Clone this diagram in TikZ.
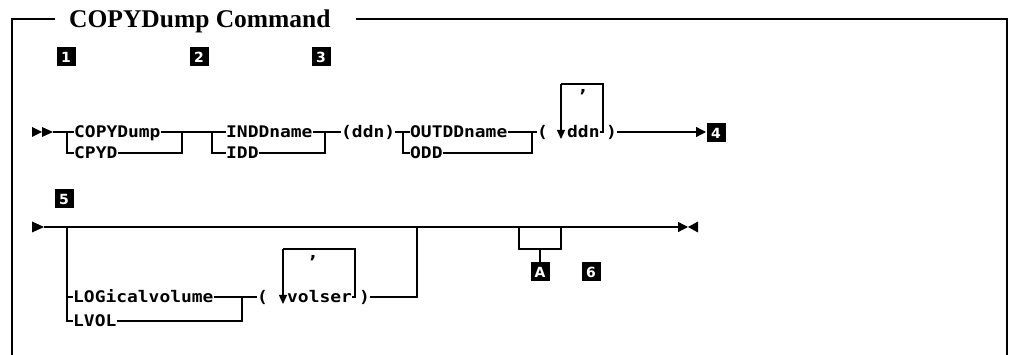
\documentclass[tikz,border=0pt]{standalone}
\usepackage{fontspec}
\setmainfont{Liberation Serif}
\newfontfamily\synfont[FakeStretch=1.12]{DejaVu Sans Mono}
\newfontfamily\badgefont{DejaVu Sans}
\usetikzlibrary{arrows.meta}
\tikzset{
  kw/.style={font=\synfont\bfseries\fontsize{16}{16}\selectfont, inner sep=0pt, anchor=west, text height=12pt, text depth=0pt},
  commanode/.style={font=\synfont\bfseries\fontsize{17}{17}\selectfont, inner sep=0pt, anchor=base},
  rr/.style={line width=1.3pt},
  frameline/.style={line width=1.7pt},
  badge/.style={fill=black, text=white, font=\badgefont\bfseries\fontsize{14}{14}\selectfont, minimum width=19pt, minimum height=19pt, inner sep=0pt},
  arr/.style={rr, -{Triangle[length=10pt,width=10pt]}},
  downarr/.style={rr, -{Triangle[length=9pt,width=8pt]}},
}
\begin{document}
\begin{tikzpicture}[x=1pt,y=-1pt]
\useasboundingbox (0,0) rectangle (1013,355);
% frame and title
\node[font=\bfseries\fontsize{25.5}{25.5}\selectfont, anchor=base west, inner sep=0pt] (title) at (69,28) {COPYDump Command};
\coordinate (fa) at (55,19);
\coordinate (fb) at (12,19);
\coordinate (fc) at (12,355);
\coordinate (fd) at (356,19);
\coordinate (fe) at (1007,19);
\coordinate (ff) at (1007,355);
\draw[frameline] (fa) -- (fb) -- (fc);
\draw[frameline] (fd) -- (fe) -- (ff);
% badges
\node[badge] (b1) at (66,57) {1};
\node[badge] (b2) at (199,57) {2};
\node[badge] (b3) at (321,57) {3};
\node[badge] (b4) at (716,133) {4};
\node[badge] (b5) at (64,199) {5};
\node[badge] (bA) at (540,272) {A};
\node[badge] (b6) at (591,272) {6};

% ---------------- row 1 ----------------
\fill (32,127) -- (42,132) -- (32,137) -- cycle;
\fill (42,127) -- (53,132) -- (42,137) -- cycle;
\coordinate (s1) at (53,132);
\coordinate (j1) at (67,132);
\coordinate (m1) at (182,132);
\coordinate (j2) at (212,132);
\coordinate (m2) at (325,132);
\coordinate (j3) at (403,132);
\coordinate (m3) at (532,132);
\node[kw] (copydump) at (74,132) {COPYDump};
\node[kw] (cpyd) at (74,153) {CPYD};
\node[kw] (inddname) at (226,132) {INDDname};
\node[kw] (idd) at (226,153) {IDD};
\node[kw] (ddn1) at (341,132) {(ddn)};
\node[kw] (outdd) at (410,132) {OUTDDname};
\node[kw] (odd) at (410,153) {ODD};
\node[kw] (lp1) at (537,132) {(};
\node[kw] (ddn2) at (567,132) {ddn};
\node[kw] (rp1) at (606,132) {)};
\node[commanode] (c1) at (583,93) {,};
\coordinate (l1a) at (603,132);
\coordinate (l1b) at (561,84);
\coordinate (l1c) at (561,139);
\coordinate (e1) at (706,132);

\draw[rr] (s1) -- (j1) -- (copydump.west);
\draw[rr] (j1) |- (cpyd.west);
\draw[rr] (copydump.east) -- (m1);
\draw[rr] (cpyd.east) -| (m1);
\draw[rr] (m1) -- (j2) -- (inddname.west);
\draw[rr] (j2) |- (idd.west);
\draw[rr] (inddname.east) -- (m2);
\draw[rr] (idd.east) -| (m2);
\draw[rr] (m2) -- (ddn1.west);
\draw[rr] (ddn1.east) -- (j3) -- (outdd.west);
\draw[rr] (j3) |- (odd.west);
\draw[rr] (outdd.east) -- (m3);
\draw[rr] (odd.east) -| (m3);
\draw[rr] (m3) -- (lp1.west);
\draw[rr] (ddn2.east) -- (l1a) |- (l1b);
\draw[downarr] (l1b) -- (l1c);
\draw[arr] (rp1.east) -- (e1);

% ---------------- row 2 ----------------
\fill (32,221.5) -- (44,227) -- (32,232.5) -- cycle;
\coordinate (s2) at (44,227);
\coordinate (j4) at (67,227);
\coordinate (m4) at (242,297);
\coordinate (u4) at (417,297);
\coordinate (k4) at (417,227);
\coordinate (fa1) at (519,227);
\coordinate (fa2) at (519,249);
\coordinate (fa3) at (561,249);
\coordinate (fa4) at (561,227);
\coordinate (fa5) at (540,249);
\coordinate (e2) at (688,227);
\node[kw] (logvol) at (73,297) {LOGicalvolume};
\node[kw] (lvol) at (73,321) {LVOL};
\node[kw] (lp2) at (257,297) {(};
\node[kw] (volser) at (287,297) {volser};
\node[kw] (rp2) at (359,297) {)};
\node[commanode] (c2) at (313,259) {,};
\coordinate (l2a) at (355,297);
\coordinate (l2b) at (283,249);
\coordinate (l2c) at (283,304);

\draw[arr] (s2) -- (e2);
\fill (698,221.5) -- (688,227) -- (698,232.5) -- cycle;
\draw[rr] (j4) |- (logvol.west);
\draw[rr] (j4) |- (lvol.west);
\draw[rr] (logvol.east) -- (m4);
\draw[rr] (lvol.east) -| (m4);
\draw[rr] (m4) -- (lp2.west);
\draw[rr] (volser.east) -- (l2a) |- (l2b);
\draw[downarr] (l2b) -- (l2c);
\draw[rr] (rp2.east) -- (u4) -- (k4);
\draw[rr] (fa1) -- (fa2) -- (fa3) -- (fa4);
\draw[rr] (fa5) -- (bA.north);
\end{tikzpicture}
\end{document}
